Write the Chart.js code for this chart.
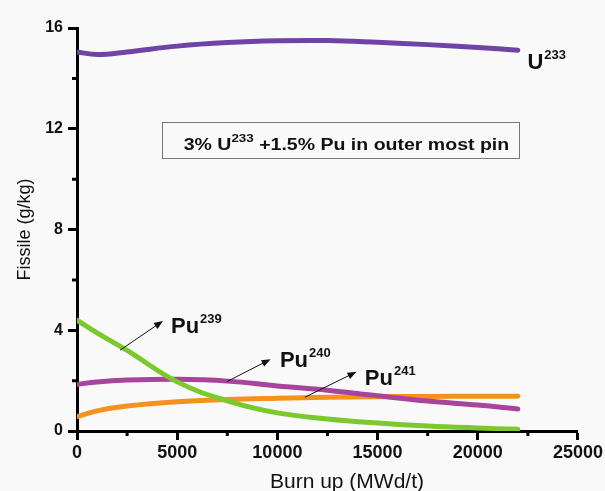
<!DOCTYPE html>
<html lang="en">
<head>
    <meta charset="UTF-8">
    <title>Fissile inventory vs burn up</title>
    <script src="https://cdn.jsdelivr.net/npm/chart.js"></script>
    <style>
        body {
            margin: 0;
            background: #f9f9f9;
        }
        #wrap {
            width: 605px;
            height: 491px;
        }
    </style>
</head>
<body>
    <div id="wrap"><canvas id="fissile" width="605" height="491"></canvas></div>
<script>
    // burn up points (MWd/t) and fissile content (g/kg)
    const burnup = [0, 1000, 2500, 5000, 7500, 10000, 12500, 15000, 17500, 20000, 22000];
    const u233  = [15.05, 14.95, 15.05, 15.28, 15.42, 15.49, 15.5, 15.43, 15.34, 15.23, 15.12];
    const pu239 = [4.4, 3.9, 3.2, 1.95, 1.2, 0.72, 0.48, 0.32, 0.2, 0.12, 0.07];
    const pu240 = [1.85, 1.95, 2.02, 2.05, 1.98, 1.79, 1.62, 1.4, 1.19, 1.03, 0.87];
    const pu241 = [0.57, 0.8, 0.99, 1.16, 1.25, 1.3, 1.34, 1.36, 1.37, 1.38, 1.38];

    const xTicks = [0, 5000, 10000, 15000, 20000, 25000];
    const yTicks = [0, 4, 8, 12, 16];
    const xMinor = [2500, 7500, 12500, 17500, 22500];
    const yMinor = [2, 6, 10, 14];

    const FONT = '"Liberation Sans", Arial, sans-serif';

    // curve labels: [x, y] of label, arrow tail, arrow head (data units)
    const labels = [
        { name: 'Pu', sup: '239', at: [4690, 3.9],   tail: [2150, 3.21],  head: [4290, 4.37] },
        { name: 'Pu', sup: '240', at: [10125, 2.55], tail: [7480, 1.96],  head: [9660, 2.85] },
        { name: 'Pu', sup: '241', at: [14364, 1.83], tail: [11370, 1.34], head: [13950, 2.35] },
        { name: 'U',  sup: '233', at: [22480, 14.39] }
    ];

    function pts(ys) {
        return burnup.map((b, i) => ({ x: b, y: ys[i] }));
    }

    function series(label, ys, color) {
        return {
            label: label,
            data: pts(ys),
            borderColor: color,
            backgroundColor: color,
            borderWidth: 5,
            borderCapStyle: 'round',
            pointRadius: 0,
            showLine: true,
            tension: 0.4
        };
    }

    function arrow(ctx, x1, y1, x2, y2) {
        let a = Math.atan2(y2 - y1, x2 - x1);
        ctx.beginPath();
        ctx.moveTo(x1, y1);
        ctx.lineTo(x2 - 6 * Math.cos(a), y2 - 6 * Math.sin(a));
        ctx.stroke();
        ctx.beginPath();
        ctx.moveTo(x2, y2);
        ctx.lineTo(x2 - 9 * Math.cos(a) + 3.5 * Math.sin(a), y2 - 9 * Math.sin(a) - 3.5 * Math.cos(a));
        ctx.lineTo(x2 - 9 * Math.cos(a) - 3.5 * Math.sin(a), y2 - 9 * Math.sin(a) + 3.5 * Math.cos(a));
        ctx.closePath();
        ctx.fill();
    }

    const extras = {
        id: 'extras',
        beforeDraw(chart) {
            const c = chart.ctx;
            c.save();
            c.fillStyle = '#f9f9f9';
            c.fillRect(0, 0, chart.width, chart.height);
            c.restore();
        },
        afterDraw(chart) {
            const c = chart.ctx;
            const xs = chart.scales.x, ys = chart.scales.y;
            const area = chart.chartArea;
            c.save();

            // minor ticks
            c.strokeStyle = '#000';
            c.lineWidth = 3;
            c.beginPath();
            xMinor.forEach(v => {
                let p = xs.getPixelForValue(v);
                c.moveTo(p, area.bottom);
                c.lineTo(p, area.bottom + 5);
            });
            yMinor.forEach(v => {
                let p = ys.getPixelForValue(v);
                c.moveTo(area.left, p);
                c.lineTo(area.left - 5, p);
            });
            c.stroke();

            // x axis title
            c.fillStyle = '#111';
            c.font = '21px ' + FONT;
            c.textAlign = 'center';
            c.textBaseline = 'alphabetic';
            c.fillText('Burn up (MWd/t)', 347, 488);

            // composition box
            let bx1 = xs.getPixelForValue(4224), bx2 = xs.getPixelForValue(22060);
            let by1 = ys.getPixelForValue(12.27), by2 = ys.getPixelForValue(10.86);
            c.strokeStyle = '#777';
            c.lineWidth = 1;
            c.strokeRect(Math.round(bx1) + 0.5, Math.round(by1) + 0.5, Math.round(bx2 - bx1), Math.round(by2 - by1));
            c.fillStyle = '#111';
            c.textAlign = 'left';
            c.save();
            c.translate(bx1 + 22, by2 - 7);
            c.scale(1.22, 1);
            let tx = 0;
            c.font = 'bold 16px ' + FONT;
            c.fillText('3% U', tx, 0);
            tx += c.measureText('3% U').width;
            c.font = 'bold 11px ' + FONT;
            c.fillText('233', tx, -8);
            tx += c.measureText('233').width;
            c.font = 'bold 16px ' + FONT;
            c.fillText(' +1.5% Pu in outer most pin', tx, 0);
            c.restore();

            // curve labels with arrows
            labels.forEach(l => {
                let x = xs.getPixelForValue(l.at[0]), y = ys.getPixelForValue(l.at[1]);
                c.fillStyle = '#111';
                c.font = 'bold 22px ' + FONT;
                c.fillText(l.name, x, y);
                let w = c.measureText(l.name).width;
                c.font = 'bold 13px ' + FONT;
                c.fillText(l.sup, x + w + 1, y - 10);
                if (l.tail) {
                    c.strokeStyle = '#111';
                    c.lineWidth = 1;
                    arrow(c,
                        xs.getPixelForValue(l.tail[0]), ys.getPixelForValue(l.tail[1]),
                        xs.getPixelForValue(l.head[0]), ys.getPixelForValue(l.head[1]));
                }
            });
            c.restore();
        }
    };

    const ctx = document.getElementById('fissile');
    const chart = new Chart(ctx, {
        type: 'scatter',
        data: {
            datasets: [
                series('U233', u233, '#7044a6'),
                series('Pu239', pu239, '#7cc92e'),
                series('Pu240', pu240, '#a8449c'),
                series('Pu241', pu241, '#f5921e')
            ]
        },
        options: {
            responsive: false,
            animation: false,
            layout: { padding: { top: 28, right: 27, left: 0, bottom: 0 } },
            plugins: {
                legend: { display: false },
                tooltip: { enabled: false }
            },
            scales: {
                x: {
                    type: 'linear',
                    min: 0,
                    max: 25000,
                    afterBuildTicks: s => { s.ticks = xTicks.map(v => ({ value: v })); },
                    afterFit: s => { s.height = 60; },
                    grid: { drawOnChartArea: false, drawTicks: true, tickLength: 9, tickWidth: 3, tickColor: '#000' },
                    border: { display: true, color: '#000', width: 3 },
                    ticks: {
                        color: '#111',
                        padding: 2,
                        maxRotation: 0,
                        font: { family: FONT, size: 18, weight: 'bold' },
                        callback: v => v
                    }
                },
                y: {
                    type: 'linear',
                    min: 0,
                    max: 16,
                    afterBuildTicks: s => { s.ticks = yTicks.map(v => ({ value: v })); },
                    afterFit: s => { s.width = 77; },
                    grid: { drawOnChartArea: false, drawTicks: true, tickLength: 9, tickWidth: 3, tickColor: '#000' },
                    border: { display: true, color: '#000', width: 3 },
                    title: {
                        display: true,
                        text: 'Fissile (g/kg)',
                        color: '#111',
                        padding: { top: 14, bottom: 0 },
                        font: { family: FONT, size: 18 }
                    },
                    ticks: {
                        color: '#111',
                        padding: 5,
                        font: { family: FONT, size: 16, weight: 'bold' }
                    }
                }
            }
        },
        plugins: [extras]
    });
</script>
</html>
